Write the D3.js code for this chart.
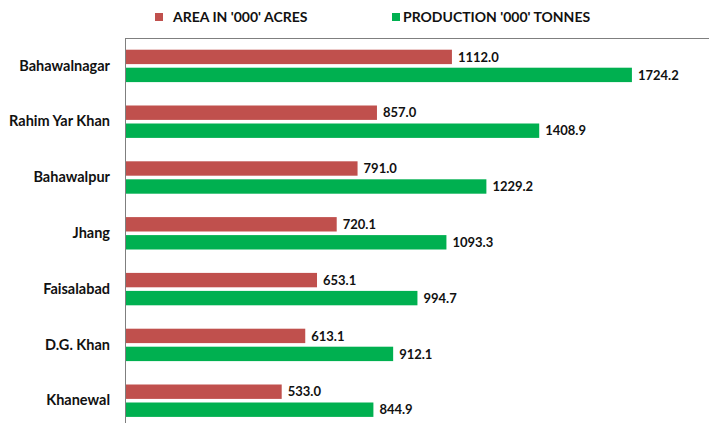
<!DOCTYPE html>
<html>
<head>
<meta charset="utf-8">
<script src="https://cdn.jsdelivr.net/npm/d3@7"></script>
<style>
  body { margin: 0; background: #fff; }
  text { font-family: Lato, "Open Sans", sans-serif; font-weight: bold; fill: #111; }
</style>
</head>
<body>
<script>
  // districts, top to bottom
  var districts = ["Bahawalnagar", "Rahim Yar Khan", "Bahawalpur", "Jhang", "Faisalabad", "D.G. Khan", "Khanewal"];
  var area = [1112.0, 857.0, 791.0, 720.1, 653.1, 613.1, 533.0];
  var production = [1724.2, 1408.9, 1229.2, 1093.3, 994.7, 912.1, 844.9];
  var seriesNames = ["AREA IN '000' ACRES", "PRODUCTION '000' TONNES"];
  var colors = ["#c0504d", "#00b050"];

  var w = 709, h = 423;

  var svg = d3.select("body").append("svg")
      .attr("width", w)
      .attr("height", h);

  //scales
  var x = d3.scaleLinear().domain([0, 2000]).range([125, 713]);
  var y = d3.scaleBand().domain(districts).range([38, 38 + 7 * 55.8]);
  var y1 = d3.scaleBand().domain([0, 1]).range([0, y.bandwidth()])
      .paddingInner(0.2).paddingOuter(0.65);

  var rows = districts.map(function(d, i) {
    return { name: d, vals: [area[i], production[i]] };
  });

  //top border line
  svg.append("line")
    .attr("x1", x(0)).attr("x2", w)
    .attr("y1", y.range()[0] + 0.5).attr("y2", y.range()[0] + 0.5)
    .attr("stroke", "#7f7f7f");

  var g = svg.selectAll("g.row")
    .data(rows)
    .enter()
    .append("g")
    .attr("class", "row")
    .attr("transform", function(d) { return "translate(0," + y(d.name) + ")"; });

  g.selectAll("rect")
    .data(function(d) { return d.vals; })
    .enter()
    .append("rect")
    .attr("x", x(0))
    .attr("y", function(d, i) { return y1(i); })
    .attr("width", function(d) { return x(d) - x(0); })
    .attr("height", y1.bandwidth())
    .attr("fill", function(d, i) { return colors[i]; });

  g.selectAll("text.val")
    .data(function(d) { return d.vals; })
    .enter()
    .append("text")
    .attr("class", "val")
    .attr("x", function(d) { return x(d) + 6; })
    .attr("y", function(d, i) { return y1(i) + y1.bandwidth() / 2; })
    .attr("dy", "0.36em")
    .style("font-size", "13px")
    .text(function(d) { return d.toFixed(1); });

  //category axis
  var axis = svg.append("g")
    .attr("transform", "translate(" + x(0) + ",0)")
    .call(d3.axisLeft(y).tickSize(0).tickPadding(15));
  axis.select(".domain").attr("stroke", "#7f7f7f").attr("d", "M0.5," + y.range()[0] + "V" + h);
  axis.selectAll("text")
    .style("font-family", "Lato, 'Open Sans', sans-serif")
    .style("font-weight", "bold")
    .style("font-size", "14.5px")
    .attr("fill", "#111");

  //legend
  var legendX = [155, 392];
  var leg = svg.selectAll("g.legend")
    .data(seriesNames)
    .enter()
    .append("g")
    .attr("class", "legend")
    .attr("transform", function(d, i) { return "translate(" + legendX[i] + ",13)"; });
  leg.append("rect")
    .attr("width", 8).attr("height", 8)
    .attr("fill", function(d, i) { return colors[i]; });
  leg.append("text")
    .attr("x", function(d, i) { return i == 0 ? 18 : 11; })
    .attr("y", 9)
    .style("font-size", "14px")
    .text(function(d) { return d; });
</script>
</body>
</html>
